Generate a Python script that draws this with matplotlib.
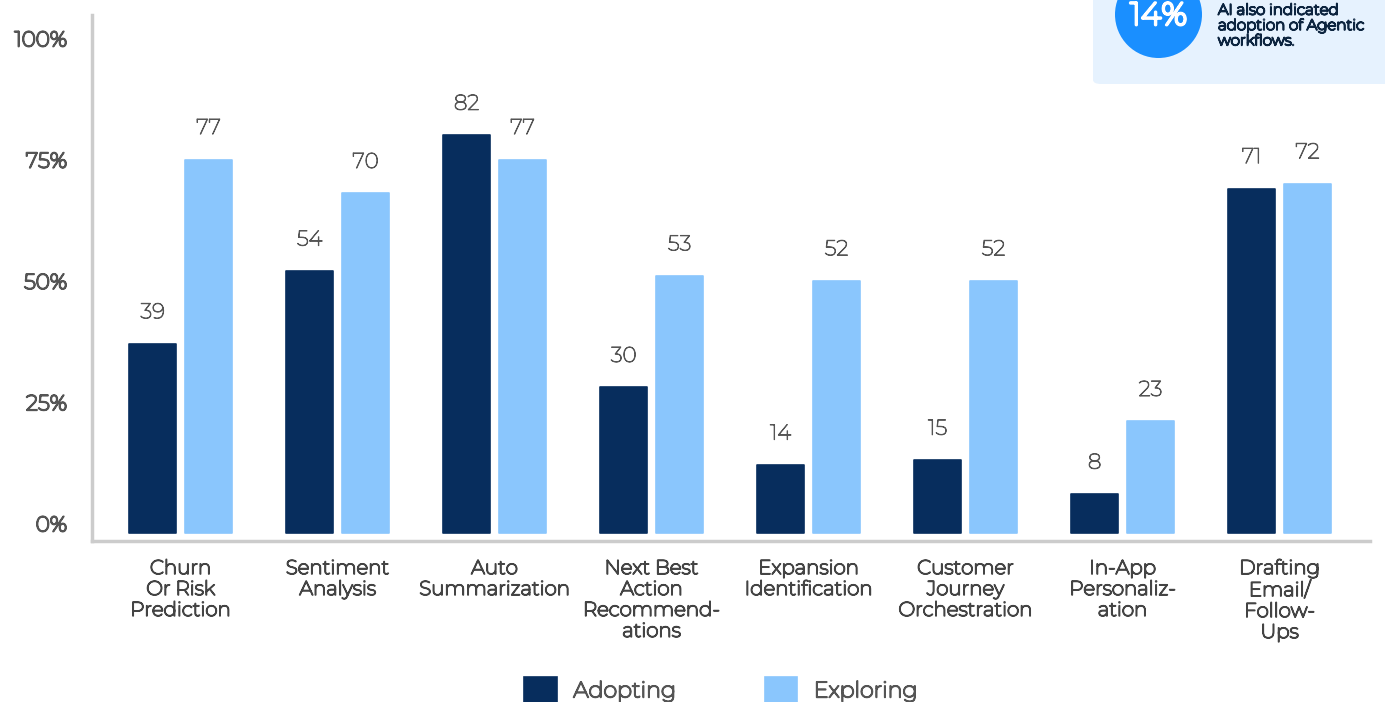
import matplotlib
matplotlib.use("Agg")
import matplotlib.pyplot as plt
from matplotlib.patches import FancyBboxPatch, Circle
import matplotlib.transforms as mtransforms
import matplotlib.patheffects as pe
import numpy as np

categories = ["Churn\nOr Risk\nPrediction", "Sentiment\nAnalysis", "Auto\nSummarization",
              "Next Best\nAction\nRecommend-\nations", "Expansion\nIdentification",
              "Customer\nJourney\nOrchestration", "In-App\nPersonaliz-\nation",
              "Drafting\nEmail/\nFollow-\nUps"]
adopting = [39, 54, 82, 30, 14, 15, 8, 71]
exploring = [77, 70, 77, 53, 52, 52, 23, 72]
ytick_vals = [0, 25, 50, 75, 100]
ytick_labels = ["0%", "25%", "50%", "75%", "100%"]
series_names = ["Adopting", "Exploring"]

dark = "#072d5d"
light = "#8ac6fd"
grey_txt = "#555555"

plt.rcParams['font.family'] = ['Montserrat', 'Open Sans', 'DejaVu Sans']

def thick(lw, color):
    return [pe.withStroke(linewidth=lw, foreground=color)]

fig = plt.figure(figsize=(13.85, 7.02), dpi=100)
ax = fig.add_axes([92/1385, 161/702, 1278/1385, 526/702])

x = np.arange(len(categories))
w = 0.30
off = 0.178
b1 = ax.bar(x - off, adopting, width=w, color=dark, edgecolor=dark, linewidth=1.2, joinstyle='round', label=series_names[0])
b2 = ax.bar(x + off, exploring, width=w, color=light, edgecolor=light, linewidth=1.2, joinstyle='round', label=series_names[1])

for bars, vals in ((b1, adopting), (b2, exploring)):
    for r, v in zip(bars, vals):
        ax.annotate(str(v), (r.get_x() + r.get_width() / 2, r.get_height()),
                    xytext=(0, 23), textcoords='offset points', ha='center', va='center',
                    fontsize=15.5, color=grey_txt, path_effects=thick(0.7, grey_txt))

ax.set_xlim(-0.564, 7.576)
ax.set_ylim(-1.65, 106.8)
ax.set_yticks(ytick_vals)
ax.set_yticklabels(ytick_labels, fontsize=15.5, fontweight='semibold', color=grey_txt)
ax.tick_params(axis='y', length=0, pad=18)
shift = mtransforms.ScaledTranslation(0, 10/100, fig.dpi_scale_trans)
for lab in ax.get_yticklabels():
    lab.set_transform(lab.get_transform() + shift)
    lab.set_path_effects(thick(1.3, grey_txt))
ax.set_xticks(x)
ax.set_xticklabels(categories, fontsize=14.3, fontweight='medium', color="#444444", linespacing=1.13)
for lab in ax.get_xticklabels():
    lab.set_path_effects(thick(1.1, "#444444"))
ax.tick_params(axis='x', length=0, pad=13)

for s in ['top', 'right']:
    ax.spines[s].set_visible(False)
for s in ['left', 'bottom']:
    ax.spines[s].set_color("#cccccc")
    ax.spines[s].set_linewidth(2.5)

leg = fig.legend(handles=[b1, b2], labels=series_names, loc='center',
                 bbox_to_anchor=(721/1385, 12/702), ncol=2, frameon=False,
                 fontsize=16, handlelength=1.45, handleheight=1.45,
                 handletextpad=0.75, columnspacing=4.0, labelcolor=grey_txt)
for t in leg.get_texts():
    t.set_path_effects(thick(1.2, grey_txt))

# callout box top right
box = FancyBboxPatch((1093/1385, 618/702), 320/1385, 120/702,
                     boxstyle="round,pad=0,rounding_size=0.006",
                     transform=fig.transFigure, facecolor="#e6f2fe", edgecolor='none', zorder=0)
fig.patches.append(box)
fig.add_artist(Circle((1158.5, 702 - 14.5), 43.5, transform=None, facecolor="#1a8fff",
                      edgecolor='none', zorder=2))
fig.text(1158.5/1385, (702 - 16)/702, "14%", ha='center', va='center', color='white',
         fontsize=23, fontweight='bold', path_effects=thick(2.0, 'white'), zorder=3)
fig.text(1218/1385, (702 - 26)/702, "AI also indicated\nadoption of Agentic\nworkflows.",
         ha='left', va='center', color="#0d2540", fontsize=10.9, fontweight='bold',
         linespacing=1.12, path_effects=thick(1.2, "#0d2540"))

fig.savefig("out.png", dpi=100)
